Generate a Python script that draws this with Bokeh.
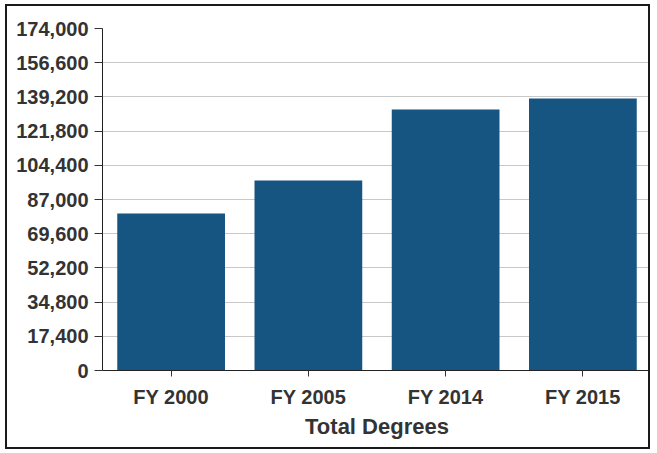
from bokeh.plotting import figure
from bokeh.models import FactorRange, Range1d, FixedTicker, NumeralTickFormatter
from bokeh.embed import file_html
from bokeh.resources import INLINE

categories = ["FY 2000", "FY 2005", "FY 2014", "FY 2015"]
degrees = [79900, 96700, 132800, 138400]
y_ticks = [0, 17400, 34800, 52200, 69600, 87000, 104400, 121800, 139200, 156600, 174000]
x_title = "Total Degrees"

FONT = "Liberation Sans"
TXT = "#333333"

p = figure(
    x_range=FactorRange(*categories, range_padding=0),
    y_range=Range1d(0, 174000),
    width=645, height=445,
    min_border_left=95, min_border_right=1, min_border_top=22, min_border_bottom=81,
    output_backend="svg", toolbar_location=None,
)
p.styles = {"border": "2px solid #1a1a1a", "margin-left": "5px", "margin-top": "4px"}
p.outline_line_color = None
p.background_fill_color = "white"
p.border_fill_color = "white"

p.vbar(x=categories, top=degrees, width=0.785, color="#165482", line_color=None)

p.xgrid.grid_line_color = None
p.ygrid.grid_line_color = "#c8c8c8"
p.ygrid.grid_line_width = 1

p.yaxis.ticker = FixedTicker(ticks=y_ticks)
p.yaxis.formatter = NumeralTickFormatter(format="0,0")
p.yaxis.minor_tick_line_color = None
p.yaxis.major_tick_out = 8
p.yaxis.major_tick_in = 0
p.yaxis.major_label_standoff = 6

p.xaxis.major_tick_out = 6
p.xaxis.major_tick_in = 0
p.xaxis.major_label_standoff = 9
p.xaxis.axis_label = x_title
p.xaxis.axis_label_standoff = 3

for ax in (p.xaxis, p.yaxis):
    ax.axis_line_color = "#222222"
    ax.major_tick_line_color = "#333333"
    ax.major_label_text_font = FONT
    ax.major_label_text_font_style = "bold"
    ax.major_label_text_font_size = "20px"
    ax.major_label_text_color = TXT
    ax.axis_label_text_font = FONT
    ax.axis_label_text_font_style = "bold"
    ax.axis_label_text_font_size = "22px"
    ax.axis_label_text_color = TXT

open("out.html", "w").write(file_html(p, INLINE))
